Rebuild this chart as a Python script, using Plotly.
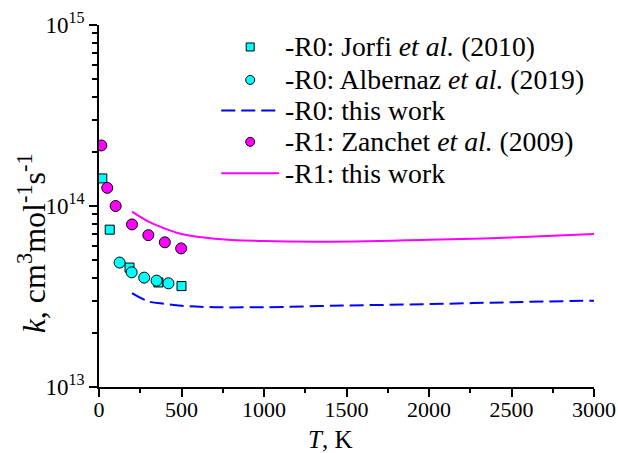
import plotly.graph_objects as go

# ---- data ----
jorfi_T = [20, 65, 185, 360, 500]
jorfi_k = [1.42e14, 7.4e13, 4.57e13, 3.78e13, 3.61e13]

albernaz_T = [125, 198, 274, 349, 421]
albernaz_k = [4.87e13, 4.30e13, 4.02e13, 3.87e13, 3.74e13]

zanchet_T = [14, 50, 101, 200, 299, 399, 498]
zanchet_k = [2.16e14, 1.26e14, 1.0e14, 7.91e13, 6.90e13, 6.30e13, 5.83e13]

r0_T = [200, 300, 400, 500, 700, 1000, 1500, 2000, 2500, 3000]
r0_k = [3.30e13, 2.97e13, 2.88e13, 2.81e13, 2.76e13, 2.76e13, 2.82e13, 2.87e13, 2.94e13, 3.00e13]

r1_T = [200, 300, 400, 500, 700, 1000, 1400, 2000, 2500, 3000]
r1_k = [9.3e13, 8.2e13, 7.5e13, 7.0e13, 6.6e13, 6.4e13, 6.35e13, 6.5e13, 6.7e13, 7.0e13]

ytick_vals = [1e13, 1e14, 1e15]
ytick_text = ["10<sup>13</sup>", "10<sup>14</sup>", "10<sup>15</sup>"]
xtick_vals = [0, 500, 1000, 1500, 2000, 2500, 3000]

legend_names = [
    "-R0: Jorfi <i>et al.</i> (2010)",
    "-R0: Albernaz <i>et al.</i> (2019)",
    "-R0: this work",
    "-R1: Zanchet <i>et al.</i> (2009)",
    "-R1: this work",
]

FONT = "Liberation Serif, Times New Roman, serif"

# figure geometry in page pixels (body margin removed below)
W, H = 618, 453
ML, MR, MT, MB = 98.5, 23.5, 25, 65.5
PW, PH = W - ML - MR, H - MT - MB


def px(xpix):
    return (xpix - ML) / PW


def py(ypix):
    return (H - MB - ypix) / PH


CYAN, MAGENTA, BLUE = "#00FFFF", "#FF00FF", "#0000FF"
sq_marker = dict(symbol="square", size=9, color=CYAN, line=dict(color="black", width=1))
cy_marker = dict(symbol="circle", size=11, color=CYAN, line=dict(color="black", width=1))
mg_marker = dict(symbol="circle", size=11, color=MAGENTA, line=dict(color="black", width=1))
r0_line = dict(color=BLUE, width=2, dash="14px,6px")
r1_line = dict(color=MAGENTA, width=2)

fig = go.Figure()
fig.add_trace(go.Scatter(x=jorfi_T, y=jorfi_k, mode="markers", name=legend_names[0], marker=sq_marker))
fig.add_trace(go.Scatter(x=albernaz_T, y=albernaz_k, mode="markers", name=legend_names[1], marker=cy_marker))
fig.add_trace(go.Scatter(x=r0_T, y=r0_k, mode="lines", name=legend_names[2],
                         line=dict(**r0_line, shape="spline")))
fig.add_trace(go.Scatter(x=zanchet_T, y=zanchet_k, mode="markers", name=legend_names[3], marker=mg_marker))
fig.add_trace(go.Scatter(x=r1_T, y=r1_k, mode="lines", name=legend_names[4],
                         line=dict(**r1_line, shape="spline")))

# ---- hand-placed legend (matches reference spacing) ----
row_y = [47, 80, 110.5, 142, 173.5]
sym_x, line_x0, line_x1, text_x = 250, 221, 279, 283
shapes, annotations = [], []
kinds = ["square", "circle", "line0", "circle_m", "line1"]
for name, yy, kind in zip(legend_names, row_y, kinds):
    annotations.append(dict(text=name, x=px(text_x), y=py(yy), xref="paper", yref="paper",
                            xanchor="left", yanchor="middle", showarrow=False,
                            font=dict(family=FONT, size=27.7, color="black")))
    if kind in ("line0", "line1"):
        ln = r0_line if kind == "line0" else r1_line
        shapes.append(dict(type="line", xref="paper", yref="paper",
                           x0=px(line_x0), x1=px(line_x1), y0=py(yy), y1=py(yy), line=ln))
    else:
        half = 4 if kind == "square" else 4.5
        col = MAGENTA if kind == "circle_m" else CYAN
        shapes.append(dict(type="rect" if kind == "square" else "circle",
                           xref="paper", yref="paper", xsizemode="pixel", ysizemode="pixel",
                           xanchor=px(sym_x), yanchor=py(yy),
                           x0=-half, x1=half, y0=-half, y1=half,
                           fillcolor=col, line=dict(color="black", width=1)))

# axis titles
annotations.append(dict(text="<i>T</i>, K", x=px(330), y=py(440), xref="paper", yref="paper",
                        xanchor="center", yanchor="middle", showarrow=False,
                        font=dict(family=FONT, size=25, color="black")))
annotations.append(dict(text="<i>k</i>, cm<sup>3</sup>mol<sup>-1</sup>s<sup>-1</sup>",
                        x=px(31), y=py(244), xref="paper", yref="paper", textangle=-90,
                        xanchor="center", yanchor="middle", showarrow=False,
                        font=dict(family=FONT, size=32, color="black")))

fig.update_layout(
    width=W, height=H,
    margin=dict(l=ML, r=MR, t=MT, b=MB, autoexpand=False),
    paper_bgcolor="white", plot_bgcolor="white",
    font=dict(family=FONT, size=22, color="black"),
    showlegend=False,
    shapes=shapes, annotations=annotations,
)
fig.update_xaxes(
    range=[0, 3000], tickvals=xtick_vals, automargin=False,
    showline=True, linecolor="black", linewidth=1.5,
    ticks="outside", ticklen=8, tickwidth=1.5, tickcolor="black",
    showgrid=False, zeroline=False, mirror=False,
    minor=dict(dtick=250, ticks="outside", ticklen=4, tickwidth=1.5, tickcolor="black", showgrid=False),
    tickfont=dict(family=FONT, size=22), ticklabelstandoff=-6, ticklabeloverflow="allow",
)
fig.update_yaxes(
    type="log", range=[13, 15], tickvals=ytick_vals, ticktext=ytick_text, automargin=False,
    showline=True, linecolor="black", linewidth=1.5,
    ticks="outside", ticklen=8, tickwidth=1.5, tickcolor="black",
    showgrid=False, zeroline=False, mirror=False,
    minor=dict(tickvals=[m * 10 ** e for e in (13, 14) for m in range(2, 10)],
               ticks="outside", ticklen=5, tickwidth=1.5, tickcolor="black", showgrid=False),
    tickfont=dict(family=FONT, size=23), ticklabeloverflow="allow",
)

fig.write_html(
    "out.html",
    config={"displayModeBar": False},
    post_script="document.body.style.margin='0';document.body.style.overflow='hidden';",
)
